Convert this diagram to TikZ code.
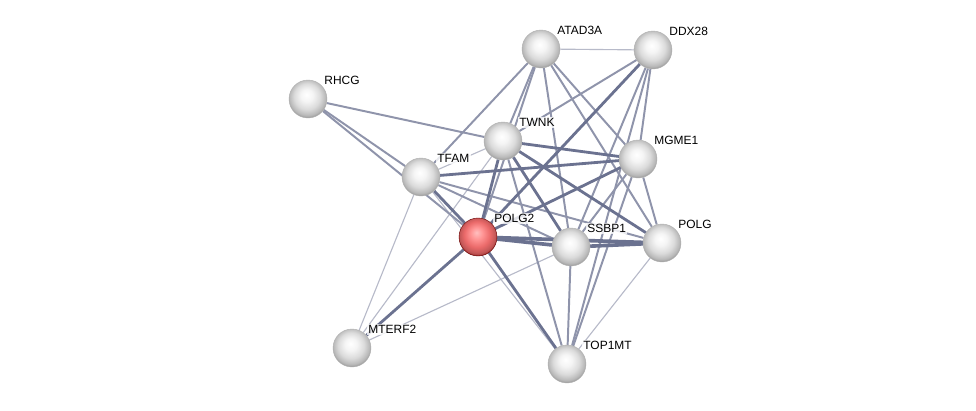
\documentclass[tikz,border=0pt]{standalone}
\usepackage{fontspec}
\setmainfont{Liberation Sans}
\usepackage{tikz}
\usetikzlibrary{backgrounds,shadings}
\definecolor{linkblue}{HTML}{4A5378}
\pgfdeclareradialshading{grayball}{\pgfpoint{-2bp}{6bp}}{%
  color(0bp)=(white); color(8bp)=(white!96!black); color(17bp)=(white!86!black);
  color(24bp)=(white!72!black); color(29bp)=(white!50!black); color(40bp)=(white!50!black)}
\pgfdeclareradialshading{redball}{\pgfpoint{-2bp}{6bp}}{%
  color(0bp)=(red!25!white); color(8bp)=(red!42!white); color(17bp)=(red!55!white!92!black);
  color(24bp)=(red!55!white!75!black); color(29bp)=(red!50!black); color(40bp)=(red!50!black)}
\tikzset{
  protein/.style={circle,minimum size=0.95cm,inner sep=0pt,shading=#1,
    draw=black!30,line width=0.3pt},
  protein/.default={grayball},
  lbl/.style={font=\fontsize{8.5}{9}\selectfont,text=black,fill=white,fill opacity=0.8,
    text opacity=1,inner sep=1pt,label distance=0pt},
  weaklink/.style={draw=linkblue!40,line width=0.8pt},
  midlink/.style={draw=linkblue!62,line width=1.4pt},
  stronglink/.style={draw=linkblue!82,line width=2pt},
}

\begin{document}
\begin{tikzpicture}[x=0.025cm,y=-0.025cm]
  \useasboundingbox (0,0) rectangle (976,410);
  \node[protein,label={[lbl]40:ATAD3A}] (atad) at (541,49) {};
  \node[protein,label={[lbl]40:DDX28}] (ddx) at (653,50) {};
  \node[protein,label={[lbl]40:RHCG}] (rhcg) at (308,99) {};
  \node[protein,label={[lbl]40:TWNK}] (twnk) at (503,141) {};
  \node[protein,label={[lbl]40:MGME1}] (mgme) at (638,159) {};
  \node[protein,label={[lbl]40:TFAM}] (tfam) at (421,177) {};
  \node[protein=redball,draw=red!40!black,label={[lbl]40:POLG2}] (polgb) at (478,237) {};
  \node[protein,label={[lbl]40:SSBP1}] (ssbp) at (571,247) {};
  \node[protein,label={[lbl]40:POLG}] (polg) at (662,243) {};
  \node[protein,label={[lbl]40:MTERF2}] (mterf) at (352,348) {};
  \node[protein,label={[lbl]40:TOP1MT}] (top) at (567,364) {};
  \begin{scope}[on background layer]
    % weak evidence
    \draw[weaklink] (atad) -- (ddx);
    \draw[weaklink] (mterf) -- (tfam);
    \draw[weaklink] (mterf) -- (twnk);
    \draw[weaklink] (mterf) -- (ssbp);
    \draw[weaklink] (polg) -- (top);
    \draw[weaklink] (tfam) -- (top);
    \draw[weaklink] (tfam) -- (twnk);
    % medium evidence
    \draw[midlink] (rhcg) -- (twnk);
    \draw[midlink] (rhcg) -- (tfam);
    \draw[midlink] (rhcg) -- (polgb);
    \draw[midlink] (atad) -- (tfam);
    \draw[midlink] (atad) -- (twnk);
    \draw[midlink] (atad) -- (polgb);
    \draw[midlink] (atad) -- (ssbp);
    \draw[midlink] (atad) -- (mgme);
    \draw[midlink] (atad) -- (polg);
    \draw[midlink] (ddx) -- (twnk);
    \draw[midlink] (ddx) -- (mgme);
    \draw[midlink] (ddx) -- (ssbp);
    \draw[midlink] (ddx) -- (top);
    \draw[midlink] (tfam) -- (ssbp);
    \draw[midlink] (tfam) -- (polg);
    \draw[midlink] (twnk) -- (top);
    \draw[midlink] (ssbp) -- (mgme);
    \draw[midlink] (ssbp) -- (top);
    \draw[midlink] (mgme) -- (polg);
    \draw[midlink] (mgme) -- (top);
    % strong evidence
    \draw[stronglink] (ddx) -- (polgb);
    \draw[stronglink] (tfam) -- (polgb);
    \draw[stronglink] (tfam) -- (mgme);
    \draw[stronglink] (twnk) -- (polgb);
    \draw[stronglink] (twnk) -- (ssbp);
    \draw[stronglink] (twnk) -- (polg);
    \draw[stronglink] (twnk) -- (mgme);
    \draw[stronglink] (polgb) -- (mgme);
    \draw[stronglink] (polgb) -- (mterf);
    \draw[stronglink] (polgb) -- (top);
    \draw[stronglink,line width=2.6pt] (polgb) -- (ssbp);
    \draw[stronglink,line width=2.6pt] (polgb) -- (polg);
    \draw[stronglink,line width=2.6pt] (ssbp) -- (polg);
  \end{scope}
\end{tikzpicture}
\end{document}
